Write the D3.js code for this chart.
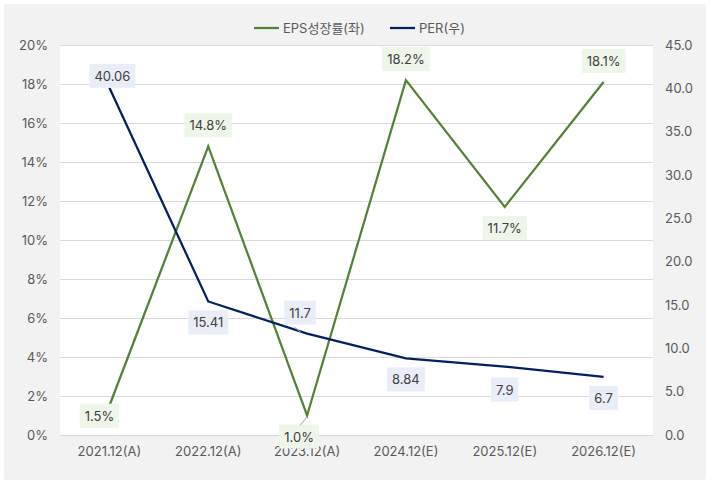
<!DOCTYPE html>
<html><head><meta charset="utf-8">
<script src="https://cdn.jsdelivr.net/npm/d3@7"></script>
<style>
body{margin:0;background:#fff;}
text{font-family:Inter,"Noto Sans CJK KR",sans-serif;}
</style></head>
<body>
<svg id="c" width="712" height="486"></svg>
<script>
const categories = ["2021.12(A)","2022.12(A)","2023.12(A)","2024.12(E)","2025.12(E)","2026.12(E)"];
const epsGrowth = [1.5, 14.8, 1.0, 18.2, 11.7, 18.1];
const per = [40.06, 15.41, 11.7, 8.84, 7.9, 6.7];
const epsLabelPos = ["below","above","below","above","below","above"];
const perLabelPos = ["above","below","above","below","below","below"];
const leftTicks = [0,2,4,6,8,10,12,14,16,18,20];
const rightTicks = [0,5,10,15,20,25,30,35,40,45];
const seriesNames = ["EPS성장률(좌)","PER(우)"];

const svg = d3.select("#c");
const W=712,H=486;
const m={l:60,r:59,t:45,b:51};
svg.append("rect").attr("x",4).attr("y",4).attr("width",702).attr("height",476).attr("rx",3).attr("fill","#f2f2f2");
const pw=W-m.l-m.r, ph=H-m.t-m.b;
svg.append("rect").attr("x",m.l).attr("y",m.t).attr("width",pw).attr("height",ph).attr("fill","#fff");

const x=d3.scaleBand().domain(categories).range([m.l,m.l+pw]);
const yL=d3.scaleLinear().domain([0,20]).range([m.t+ph,m.t]);
const yR=d3.scaleLinear().domain([0,45]).range([m.t+ph,m.t]);
const cx=d=>x(d)+x.bandwidth()/2;

// gridlines
svg.append("g").selectAll("line").data(leftTicks).join("line")
 .attr("x1",m.l).attr("x2",m.l+pw).attr("y1",d=>yL(d)).attr("y2",d=>yL(d))
 .attr("stroke","#d9d9d9").attr("stroke-width",1).attr("shape-rendering","crispEdges");

const axisFont=g=>g.selectAll("text").attr("fill","#595959").style("font-size","13px");
const gl=svg.append("g").attr("transform",`translate(${m.l},0)`)
 .call(d3.axisLeft(yL).tickValues(leftTicks).tickFormat(d=>d+"%").tickSize(0).tickPadding(12));
gl.select(".domain").remove(); axisFont(gl);
const gr=svg.append("g").attr("transform",`translate(${m.l+pw},0)`)
 .call(d3.axisRight(yR).tickValues(rightTicks).tickFormat(d3.format(".1f")).tickSize(0).tickPadding(12));
gr.select(".domain").remove(); axisFont(gr);
const gb=svg.append("g").attr("transform",`translate(0,${m.t+ph})`)
 .call(d3.axisBottom(x).tickSize(0).tickPadding(12));
gb.select(".domain").attr("stroke","#d9d9d9"); axisFont(gb);

const green="#548235", navy="#002060";
const line=(ys,sc)=>d3.line().x((d,i)=>cx(categories[i])).y(d=>sc(d))(ys);
svg.append("path").attr("d",line(epsGrowth,yL)).attr("fill","none").attr("stroke",green).attr("stroke-width",2.25);
svg.append("path").attr("d",line(per,yR)).attr("fill","none").attr("stroke",navy).attr("stroke-width",2.25);

function labels(vals,sc,pos,fmt,bg,offsets){
  vals.forEach((v,i)=>{
    const px=cx(categories[i]), py=sc(v);
    const o=offsets[i]||[0,0];
    const ly=py+(pos[i]==="above"?-21:21)+o[1], lx=px+o[0];
    const t=fmt(v);
    const g=svg.append("g");
    const tx=g.append("text").attr("x",lx).attr("y",ly).attr("text-anchor","middle").attr("dominant-baseline","central")
      .attr("fill","#404040").style("font-size","13px").text(t);
    const bb=tx.node().getBBox();
    g.insert("rect","text").attr("x",bb.x-5).attr("y",ly-12).attr("width",bb.width+10).attr("height",24).attr("fill",bg);
  });
}
labels(epsGrowth,yL,epsLabelPos,v=>v.toFixed(1)+"%","#eef5e9",[[-10,-11],[0,0],[-8,0],[0,0],[0,0],[0,0]]);
// leader lines
svg.append("line").attr("x1",cx(categories[2])).attr("y1",yL(1.0)+1).attr("x2",cx(categories[2])-7).attr("y2",yL(1.0)+10).attr("stroke","#a6a6a6");
svg.append("line").attr("x1",cx(categories[2])-6).attr("y1",yR(11.7)-1).attr("x2",cx(categories[2])-13).attr("y2",yR(11.7)-7).attr("stroke","#a6a6a6");
labels(per,yR,perLabelPos,v=>String(v),"#e9edf7",[[3,9],[0,0],[-7,-0],[0,0],[0,2],[0,0]]);

// legend
const lg=svg.append("g");
const items=[{n:seriesNames[0],c:green,x:254},{n:seriesNames[1],c:navy,x:390}];
items.forEach(it=>{
  lg.append("line").attr("x1",it.x).attr("x2",it.x+25).attr("y1",28).attr("y2",28).attr("stroke",it.c).attr("stroke-width",2.25);
  lg.append("text").attr("x",it.x+29).attr("y",28).attr("dominant-baseline","central").attr("fill","#595959").style("font-size","13px").text(it.n);
});
</script>
</body></html>
